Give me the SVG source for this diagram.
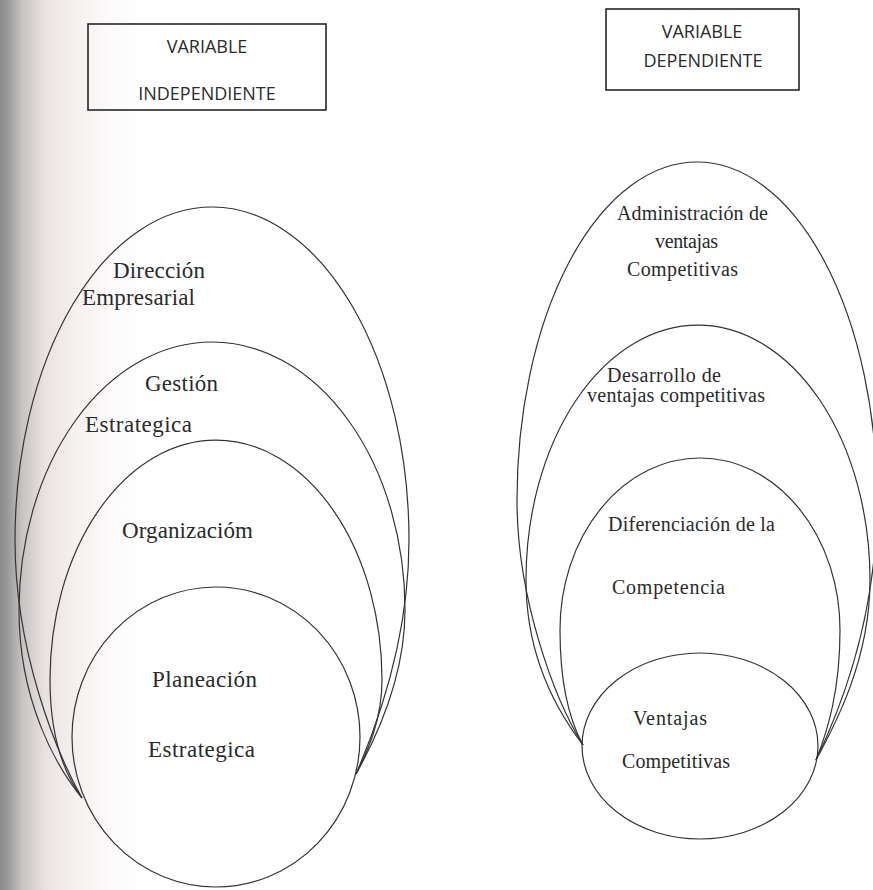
<svg xmlns="http://www.w3.org/2000/svg" width="873" height="890" viewBox="0 0 873 890">
  <defs>
    <linearGradient id="edge" x1="0" y1="0" x2="1" y2="0">
      <stop offset="0" stop-color="#8a8a8a"/>
      <stop offset="0.07" stop-color="#a09e9e"/>
      <stop offset="0.16" stop-color="#c9c4c4"/>
      <stop offset="0.32" stop-color="#e9e2e2"/>
      <stop offset="0.55" stop-color="#f6f1f1"/>
      <stop offset="0.8" stop-color="#fcfafa"/>
      <stop offset="1" stop-color="#ffffff"/>
    </linearGradient>
    <style>
      .shape { fill: none; stroke: #333; stroke-width: 1.2; }
      .box { fill: none; stroke: #262626; stroke-width: 1.6; }
      .head { font-family: "Open Sans", "Liberation Sans", sans-serif; font-size: 18px; fill: #2b2b2b; text-anchor: middle; }
      .lbl { font-family: "Liberation Serif", "DejaVu Serif", serif; fill: #2a2a2a; }
      .big { font-size: 23px; }
      .small { font-size: 20px; }
    </style>
  </defs>

  <!-- page -->
  <rect x="0" y="0" width="873" height="890" fill="#ffffff"/>
  <rect x="0" y="0" width="140" height="890" fill="url(#edge)"/>

  <!-- headings -->
  <g id="box-independiente">
    <rect class="box" x="88" y="24" width="238" height="86"/>
    <text class="head" x="207" y="53">VARIABLE</text>
    <text class="head" x="207" y="100">INDEPENDIENTE</text>
  </g>
  <g id="box-dependiente">
    <rect class="box" x="606" y="9" width="193" height="81"/>
    <text class="head" x="702" y="38">VARIABLE</text>
    <text class="head" x="703" y="67">DEPENDIENTE</text>
  </g>

  <!-- independent variable: nested shapes -->
  <g id="direccion-empresarial">
    <path class="shape" d="M 82 798 C 55 750, 15 650, 15 540 A 197 333 0 0 1 409 540 C 409 640, 375 730, 356 774"/>
    <text class="lbl big" x="113" y="278" textLength="92" lengthAdjust="spacing">Dirección</text>
    <text class="lbl big" x="82" y="305" textLength="113" lengthAdjust="spacing">Empresarial</text>
  </g>
  <g id="gestion-estrategica">
    <path class="shape" d="M 82 798 C 55 765, 19 700, 19 610 A 193 268 0 0 1 405 610 C 405 680, 375 740, 356 774"/>
    <text class="lbl big" x="145" y="391" textLength="73" lengthAdjust="spacing">Gestión</text>
    <text class="lbl big" x="85" y="432" textLength="107" lengthAdjust="spacing">Estrategica</text>
  </g>
  <g id="organizacion">
    <path class="shape" d="M 82 798 C 65 775, 50 740, 50 680 A 166 240 0 0 1 382 680 C 382 720, 368 750, 356 774"/>
    <text class="lbl big" x="122" y="538" textLength="131" lengthAdjust="spacing">Organizacióm</text>
  </g>
  <g id="planeacion-estrategica">
    <ellipse class="shape" cx="216" cy="737" rx="144" ry="150"/>
    <text class="lbl big" x="152" y="687" textLength="105" lengthAdjust="spacing">Planeación</text>
    <text class="lbl big" x="148" y="757" textLength="107" lengthAdjust="spacing">Estrategica</text>
  </g>

  <!-- dependent variable: nested shapes -->
  <g id="administracion-ventajas">
    <path class="shape" d="M 583 745 C 555 700, 517 600, 517 500 A 180 338 0 0 1 877 500 C 877 620, 840 710, 816 760"/>
    <text class="lbl small" x="617" y="220" textLength="151" lengthAdjust="spacing">Administración de</text>
    <text class="lbl small" x="655" y="248" textLength="63" lengthAdjust="spacing">ventajas</text>
    <text class="lbl small" x="627" y="276" textLength="111" lengthAdjust="spacing">Competitivas</text>
  </g>
  <g id="desarrollo-ventajas">
    <path class="shape" d="M 583 745 C 560 715, 526 660, 526 580 A 172 255 0 0 1 870 580 C 870 660, 835 725, 816 760"/>
    <text class="lbl small" x="607" y="382" textLength="114" lengthAdjust="spacing">Desarrollo de</text>
    <text class="lbl small" x="587" y="402" textLength="178" lengthAdjust="spacing">ventajas competitivas</text>
  </g>
  <g id="diferenciacion-competencia">
    <path class="shape" d="M 583 745 C 572 725, 560 690, 560 630 A 140 172 0 0 1 840 630 C 840 690, 828 730, 816 760"/>
    <text class="lbl small" x="608" y="531" textLength="167" lengthAdjust="spacing">Diferenciación de la</text>
    <text class="lbl small" x="612" y="594" textLength="113" lengthAdjust="spacing">Competencia</text>
  </g>
  <g id="ventajas-competitivas">
    <ellipse class="shape" cx="700" cy="746" rx="118" ry="93"/>
    <text class="lbl small" x="633" y="725" textLength="74" lengthAdjust="spacing">Ventajas</text>
    <text class="lbl small" x="622" y="768" textLength="108" lengthAdjust="spacing">Competitivas</text>
  </g>

  <g id="connectors"/>
</svg>
